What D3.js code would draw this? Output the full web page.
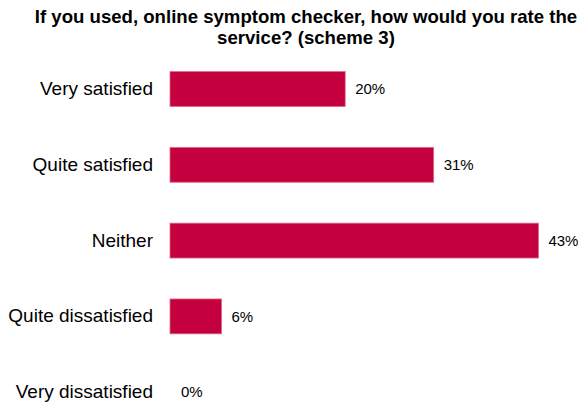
<!DOCTYPE html>
<html>
<head>
<meta charset="utf-8">
<script src="https://cdn.jsdelivr.net/npm/d3@7"></script>
<style>
  html, body { margin: 0; padding: 0; background: #fff; }
  svg { display: block; }
  text { font-family: "Liberation Sans", Arial, sans-serif; fill: #000; }
</style>
</head>
<body>
<svg id="chart" width="582" height="408"></svg>
<script>
const titleLines = ["If you used, online symptom checker, how would you rate the", "service? (scheme 3)"];
const categories = ["Very satisfied", "Quite satisfied", "Neither", "Quite dissatisfied", "Very dissatisfied"];
const values = [20.4, 30.7, 42.9, 6.0, 0];
const valueLabels = ["20%", "31%", "43%", "6%", "0%"];

const svg = d3.select("#chart");

svg.append("g").selectAll("text").data(titleLines).join("text")
  .attr("x", 306).attr("y", (d, i) => 23 + i * 21)
  .attr("text-anchor", "middle")
  .attr("font-weight", "bold")
  .attr("font-size", 18.6)
  .text(d => d);

const x = d3.scaleLinear().domain([0, 43]).range([170, 539.3]);
const y = d3.scaleBand().domain(categories).range([51.1, 430.1]).paddingInner(0.54).paddingOuter(0.27);

const data = categories.map((c, i) => ({ c, v: values[i], label: valueLabels[i] }));

svg.append("g").selectAll("rect").data(data.filter(d => d.v > 0)).join("rect")
  .attr("x", x(0))
  .attr("y", d => y(d.c))
  .attr("width", d => x(d.v) - x(0))
  .attr("height", y.bandwidth())
  .attr("fill", "#C4003F")
  .attr("stroke", "#DD6A86")
  .attr("stroke-width", 0.8);

const yAxis = d3.axisLeft(y).tickSize(0).tickPadding(17);
const ag = svg.append("g").attr("transform", `translate(${x(0)},0)`).call(yAxis);
ag.select(".domain").remove();
ag.selectAll("text").attr("font-size", 19).attr("fill", "#000")
  .style("font-family", '"Liberation Sans", Arial, sans-serif');

svg.append("g").selectAll("text").data(data).join("text")
  .attr("x", d => x(d.v) + (d.v > 0 ? 10 : 11))
  .attr("y", d => y(d.c) + y.bandwidth() / 2)
  .attr("dy", "0.35em")
  .attr("font-size", 15)
  .text(d => d.label);
</script>
</body>
</html>
